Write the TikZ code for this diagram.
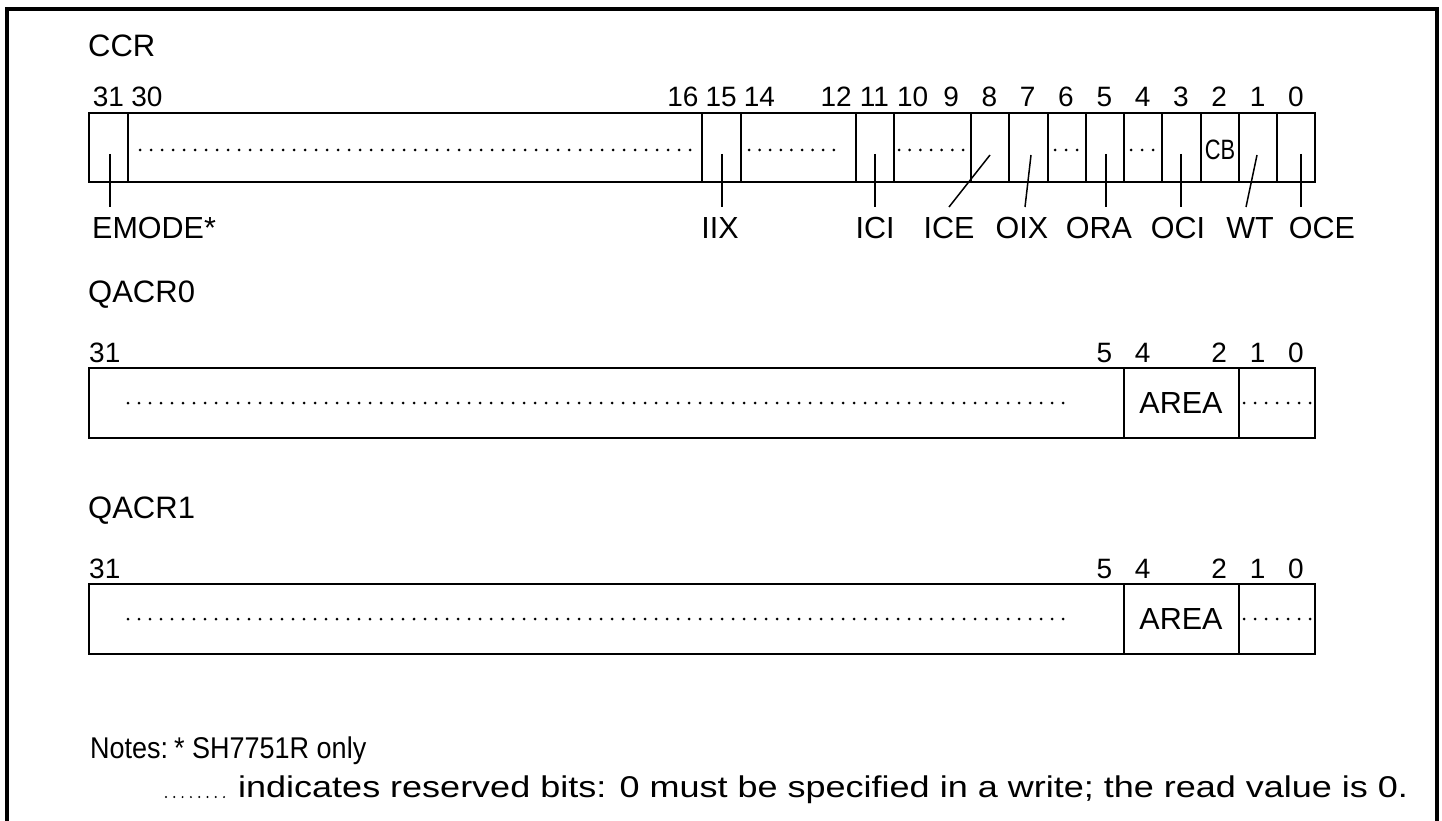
\documentclass[tikz,border=0pt]{standalone}
\usepackage{fontspec}
\setmainfont{Liberation Sans}
\newfontfamily\cbfont[FakeStretch=0.78]{Liberation Sans}
\newfontfamily\notefont[FakeStretch=0.9]{Liberation Sans}
\newfontfamily\widefont[FakeStretch=1.2]{Liberation Sans}
\begin{document}
\begin{tikzpicture}[x=1pt,y=-1pt,
  frame/.style={line width=4pt},
  regbox/.style={line width=1.8pt},
  divider/.style={line width=1.5pt},
  leader/.style={line width=1.5pt},
  resdot/.style={fill=black, draw=none},
  regtitle/.style={font=\fontsize{31}{36}\selectfont, inner sep=0pt, anchor=base west},
  bitnum/.style={font=\fontsize{28}{34}\selectfont, inner sep=0pt, anchor=base},
  field/.style={font=\fontsize{30.5}{36}\selectfont, inner sep=0pt, anchor=base},
  note/.style={font=\notefont\fontsize{30}{36}\selectfont, inner sep=0pt, anchor=base west},
  widenote/.style={font=\widefont\fontsize{30}{36}\selectfont, inner sep=0pt, anchor=base west}]
\useasboundingbox (0,0) rectangle (1442,821);
\def\cw{38.3125}
% dotted row: \dotrow[radius]{x0}{y}{spacing}{count-1}
\newcommand\dotrow[5][1.5]{\foreach \k in {0,...,#5}
  \fill[resdot] ({#2+\k*#4},#3) circle[radius=#1];}
% outer frame (open at bottom)
\draw[frame] (7,821) -- (7,9) -- (1437,9) -- (1437,821);

% ================= CCR =================
\node[regtitle] (ccrtitle) at (88,57) {CCR};
\node[bitnum] (c31) at (108.5,107) {31};
\node[bitnum] (c30) at (147,107) {30};
\foreach \i in {16,15,14,12,11,10,9,8,7,6,5,4,3,2,1,0}
  \node[bitnum] (c\i) at ({1315-(\i+0.5)*\cw},107) {\i};
\draw[regbox] (89,113) rectangle (1315,182);
\foreach \x in {128,702,741,856,894,971,1009,1048,1086,1124,1162,1201,1239,1277}
  \draw[divider] (\x,113) -- (\x,182);
% reserved dots
\dotrow{140}{150}{11}{50}
\dotrow{749}{150}{10.6}{8}
\dotrow{899}{150}{10.67}{6}
\dotrow{1055}{150}{11}{2}
\dotrow{1131}{150}{11}{2}
\node[font=\cbfont\fontsize{28}{34}\selectfont, inner sep=0pt] (cb) at (1220,150) {CB};
% field labels
\node[field, anchor=base west] (emode) at (92,238) {EMODE*};
\node[field] (iix) at (720,238) {IIX};
\node[field] (ici) at (875,238) {ICI};
\node[field] (ice) at (949,238) {ICE};
\node[field] (oix) at (1022,238) {OIX};
\node[field] (ora) at (1099,238) {ORA};
\node[field] (oci) at (1178,238) {OCI};
\node[field] (wt) at (1250,238) {WT};
\node[field] (oce) at (1322,238) {OCE};
% leader lines
\coordinate (emT) at (110,154);  \coordinate (emB) at (110,207);
\coordinate (iixT) at (722,154); \coordinate (iixB) at (722,207);
\coordinate (iciT) at (875,154); \coordinate (iciB) at (875,207);
\coordinate (iceT) at (990,155); \coordinate (iceB) at (949,207);
\coordinate (oixT) at (1031,155); \coordinate (oixB) at (1025,207);
\coordinate (oraT) at (1106,154); \coordinate (oraB) at (1106,207);
\coordinate (ociT) at (1181,154); \coordinate (ociB) at (1181,207);
\coordinate (wtT) at (1257,155); \coordinate (wtB) at (1246,207);
\coordinate (oceT) at (1301,154); \coordinate (oceB) at (1301,207);
\foreach \n in {em,iix,ici,ice,oix,ora,oci,wt,oce}
  \draw[leader] (\n T) -- (\n B);

% ================= QACR0 =================
\node[regtitle] (q0title) at (88,302) {QACR0};
\node[bitnum, anchor=base west] (q0b31) at (89,362) {31};
\foreach \i in {5,4,2,1,0}
  \node[bitnum] (q0b\i) at ({1315-(\i+0.5)*\cw},362) {\i};
\draw[regbox] (89,368) rectangle (1315,438);
\draw[divider] (1124,368) -- (1124,438);
\draw[divider] (1239,368) -- (1239,438);
\dotrow{128}{403}{11}{85}
\node[field, anchor=center] (q0area) at (1181,403) {AREA};
\dotrow{1244}{403}{11}{6}

% ================= QACR1 =================
\node[regtitle] (q1title) at (88,518) {QACR1};
\node[bitnum, anchor=base west] (q1b31) at (89,578) {31};
\foreach \i in {5,4,2,1,0}
  \node[bitnum] (q1b\i) at ({1315-(\i+0.5)*\cw},578) {\i};
\draw[regbox] (89,584) rectangle (1315,654);
\draw[divider] (1124,584) -- (1124,654);
\draw[divider] (1239,584) -- (1239,654);
\dotrow{128}{619}{11}{85}
\node[field, anchor=center] (q1area) at (1181,619) {AREA};
\dotrow{1244}{619}{11}{6}

% ================= Notes =================
\node[note] (notes) at (90,758) {Notes:};
\node[note] (sh) at (174,758) {* SH7751R only};
\dotrow[1.1]{166}{797}{8.3}{7}
\node[widenote] (reserved) at (238,797) {indicates reserved bits: 0 must be specified in a write; the read value is 0.};
\end{tikzpicture}
\end{document}
